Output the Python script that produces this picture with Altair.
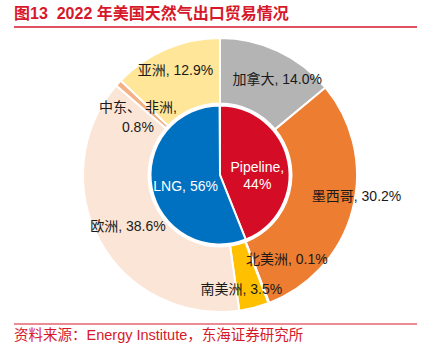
import math
import altair as alt
import pandas as pd

# ---- data ----
outer_regions = ["加拿大", "墨西哥", "北美洲", "南美洲", "欧洲", "中东、非洲", "亚洲"]
outer_shares = [14.0, 30.2, 0.1, 3.5, 38.6, 0.8, 12.9]
inner_types = ["Pipeline", "LNG"]
inner_shares = [44, 56]

title_text = "图13\u00a0\u00a02022 年美国天然气出口贸易情况"
source_text = "资料来源：Energy Institute，东海证券研究所"

# ---- styles ----
outer_colors = ["#B4B4B4", "#ED7D31", "#5B9BD5", "#FFC000", "#FBE5D6", "#F4B183", "#FFE699"]
inner_colors = ["#D50C25", "#0070C0"]
RED = "#D7182A"
FONT = "Liberation Sans, Noto Sans CJK SC, sans-serif"
CX, CY = 220, 175

# label styling: radius, dx, dy
outer_label_style = {
    "加拿大": (111, 10, 5),
    "墨西哥": (138, 3, -13),
    "北美洲": (95, 33, -4),
    "南美洲": (118, -8, 1),
    "欧洲": (105, 0, 2),
    "中东、非洲": (100, -8, 0),
    "亚洲": (113, 0, 0),
}
inner_label_style = {
    "Pipeline": (38, 0, 0),
    "LNG": (35, 0, 5),
}


def with_mid(names, values):
    total = sum(values)
    rows, cum = [], 0.0
    for i, (n, v) in enumerate(zip(names, values)):
        mid = (cum + v / 2) / total * 2 * math.pi
        cum += v
        rows.append({"name": n, "share": v, "idx": i, "mid": mid})
    return pd.DataFrame(rows)


outer_df = with_mid(outer_regions, outer_shares)
inner_df = with_mid(inner_types, inner_shares)


def outer_label(n, v):
    if n == "中东、非洲":
        return "中东、 非洲,\n" + f"{v:.1f}%"
    return f"{n}, {v:.1f}%"


def inner_label(n, v):
    if n == "Pipeline":
        return f"{n},\n{v}%"
    return f"{n}, {v}%"


outer_df["label"] = [outer_label(n, v) for n, v in zip(outer_df["name"], outer_df["share"])]
inner_df["label"] = [inner_label(n, v) for n, v in zip(inner_df["name"], inner_df["share"])]

center = dict(x=alt.value(CX), y=alt.value(CY))

outer_arc = alt.Chart(outer_df).mark_arc(
    outerRadius=137, innerRadius=71.5, stroke="white", strokeWidth=2
).encode(
    theta=alt.Theta("share:Q", stack=True),
    order=alt.Order("idx:Q"),
    color=alt.Color("name:N", scale=alt.Scale(domain=outer_regions, range=outer_colors), legend=None),
    **center,
)

inner_arc = alt.Chart(inner_df).mark_arc(
    outerRadius=69.5, stroke="white", strokeWidth=2
).encode(
    theta=alt.Theta("share:Q", stack=True),
    order=alt.Order("idx:Q"),
    color=alt.Color("name:N", scale=alt.Scale(domain=inner_types, range=inner_colors), legend=None),
    **center,
)

layers = [outer_arc, inner_arc]

for name, (r, dx, dy) in outer_label_style.items():
    layers.append(
        alt.Chart(outer_df).transform_filter(alt.datum.name == name).mark_text(
            font=FONT, fontSize=14, color="#1A1A1A", align="center", baseline="middle",
            dx=dx, dy=dy, lineBreak="\n", lineHeight=20,
        ).encode(
            theta=alt.Theta("mid:Q", scale=None),
            radius=alt.value(r),
            text="label:N",
            **center,
        )
    )

for name, (r, dx, dy) in inner_label_style.items():
    layers.append(
        alt.Chart(inner_df).transform_filter(alt.datum.name == name).mark_text(
            font=FONT, fontSize=14, color="white", align="center", baseline="middle",
            dx=dx, dy=dy, lineBreak="\n", lineHeight=17,
        ).encode(
            theta=alt.Theta("mid:Q", scale=None),
            radius=alt.value(r),
            text="label:N",
            **center,
        )
    )

deco_df = pd.DataFrame({"title": [title_text], "source": [source_text]})

title = alt.Chart(deco_df).mark_text(
    font=FONT, fontSize=16, fontWeight="bold", color=RED, align="left", baseline="middle"
).encode(x=alt.value(14), y=alt.value(14), text="title:N")

source = alt.Chart(deco_df).mark_text(
    font=FONT, fontSize=14.5, color=RED, align="left", baseline="middle"
).encode(x=alt.value(14), y=alt.value(336), text="source:N")

top_rule = alt.Chart(deco_df).mark_rule(color=RED, strokeWidth=1.5).encode(
    x=alt.value(14), x2=alt.value(417), y=alt.value(27)
)
bottom_rule = alt.Chart(deco_df).mark_rule(color=RED, strokeWidth=1.2).encode(
    x=alt.value(14), x2=alt.value(417), y=alt.value(324)
)

layers += [title, top_rule, bottom_rule, source]

chart = alt.layer(*layers).resolve_scale(color="independent").properties(
    width=434, height=354, padding=0, autosize="none", background="white"
).configure_view(stroke=None)

chart.save("out.html", embed_options={"renderer": "svg", "actions": False})
